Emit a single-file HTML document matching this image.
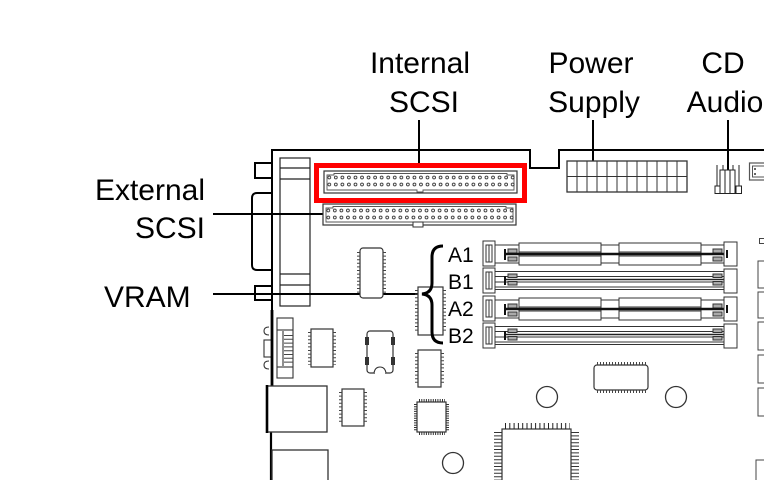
<!DOCTYPE html>
<html><head><meta charset="utf-8"><style>
html,body{margin:0;padding:0;background:#fff;}
svg{display:block;}
text{font-family:"Liberation Sans",Arial,Helvetica,sans-serif;fill:#000;}
</style></head><body>
<svg width="764" height="480" viewBox="0 0 764 480" xmlns="http://www.w3.org/2000/svg">
<defs>
<pattern id="p1" patternUnits="userSpaceOnUse" x="326" y="174" width="6.55" height="7"><circle cx="3.27" cy="3.5" r="1.4" fill="#fff" stroke="#333" stroke-width="0.9"/></pattern>
<pattern id="p2" patternUnits="userSpaceOnUse" x="325" y="207" width="6.55" height="7"><circle cx="3.27" cy="3.5" r="1.4" fill="#fff" stroke="#333" stroke-width="0.9"/></pattern>
<g id="slotA" fill="#fff" stroke="#333" stroke-width="1">
<rect x="483" y="0" width="12" height="25"/>
<rect x="486" y="4" width="6" height="17"/>
<line x1="489" y1="4" x2="489" y2="21"/>
<rect x="495" y="4" width="24" height="18"/>
<rect x="519" y="2" width="82" height="9"/>
<rect x="519" y="15" width="82" height="9"/>
<rect x="601" y="4" width="18" height="18"/>
<rect x="619" y="2" width="82" height="9"/>
<rect x="619" y="15" width="82" height="9"/>
<rect x="701" y="4" width="23" height="18"/>
<rect x="508" y="8" width="9" height="4" fill="#aaa"/>
<rect x="508" y="16" width="9" height="4" fill="#aaa"/>
<rect x="713" y="8" width="9" height="4" fill="#aaa"/>
<rect x="713" y="16" width="9" height="4" fill="#aaa"/>
<line x1="505" y1="13" x2="727" y2="13" stroke="#111" stroke-width="2.5"/>
<line x1="505" y1="8" x2="505" y2="19" stroke="#111" stroke-width="2"/>
<rect x="724" y="1" width="13" height="24"/>
<line x1="727" y1="9" x2="727" y2="17" stroke="#111" stroke-width="2"/>
</g>
<g id="slotB" fill="#fff" stroke="#333" stroke-width="1">
<rect x="483" y="0" width="12" height="25"/>
<rect x="486" y="4" width="6" height="17"/>
<line x1="489" y1="4" x2="489" y2="21"/>
<rect x="495" y="3.5" width="229" height="5"/>
<rect x="495" y="14" width="229" height="5"/>
<line x1="505" y1="11.5" x2="727" y2="11.5" stroke="#222" stroke-width="1.6"/>
<line x1="495" y1="21.5" x2="724" y2="21.5"/>
<rect x="508" y="6" width="9" height="3.5" fill="#aaa"/>
<rect x="508" y="13.5" width="9" height="3.5" fill="#aaa"/>
<rect x="713" y="6" width="9" height="3.5" fill="#aaa"/>
<rect x="713" y="13.5" width="9" height="3.5" fill="#aaa"/>
<line x1="505" y1="8" x2="505" y2="17" stroke="#111" stroke-width="2"/>
<rect x="724" y="1" width="13" height="24"/>
</g>
</defs>

<!-- Labels -->
<g font-size="30">
<text x="420" y="73" text-anchor="middle">Internal</text>
<text x="424" y="112" text-anchor="middle">SCSI</text>
<text x="591" y="73" text-anchor="middle">Power</text>
<text x="594" y="112" text-anchor="middle">Supply</text>
<text x="723" y="73" text-anchor="middle">CD</text>
<text x="725" y="112" text-anchor="middle">Audio</text>
<text x="205" y="200" text-anchor="end">External</text>
<text x="205" y="238" text-anchor="end">SCSI</text>
<text x="104" y="307">VRAM</text>
</g>
<g font-size="21">
<text x="448" y="262">A1</text>
<text x="448" y="289">B1</text>
<text x="448" y="316">A2</text>
<text x="448" y="343">B2</text>
</g>

<!-- Board outline -->
<polyline points="272,386 272,150 530,150 530,168 559,168 559,150 764,150" fill="none" stroke="#000" stroke-width="2"/>
<line x1="271" y1="432" x2="271" y2="480" stroke="#000" stroke-width="2.2"/>

<!-- Left panel -->
<g fill="none" stroke="#222" stroke-width="1.2">
<rect x="280" y="158" width="30" height="148"/>
<line x1="280" y1="168" x2="310" y2="168"/>
<line x1="280" y1="179" x2="310" y2="179"/>
<line x1="280" y1="274" x2="310" y2="274"/>
<line x1="280" y1="285" x2="310" y2="285"/>
</g>
<g fill="none" stroke="#000" stroke-width="2">
<polyline points="272,163 255,163 255,178 272,178"/>
<path d="M272,193 L257,193 Q252,193 252,198 L252,265 Q252,270 257,270 L272,270"/>
<polyline points="272,286 255,286 255,300 272,300"/>
</g>

<!-- Leader lines -->
<g stroke="#000" stroke-width="2">
<line x1="419" y1="120" x2="419" y2="165"/>
<line x1="593" y1="120" x2="593" y2="161"/>
<line x1="728" y1="120" x2="728" y2="170"/>
<line x1="213" y1="214" x2="323" y2="214"/>
<line x1="213" y1="294" x2="424" y2="294"/>
</g>

<!-- Internal SCSI connector -->
<rect x="324" y="171" width="193" height="22" fill="#fff" stroke="#333" stroke-width="1.2"/>
<path d="M327,190 L327,175 L334,175 L334,173.5 L507,173.5 L507,175 L514,175 L514,190 L423,190 L423,192 L417,192 L417,190 Z" fill="#fff" stroke="#555" stroke-width="0.9"/>
<rect x="326" y="174" width="190" height="14" fill="url(#p1)"/>

<!-- External SCSI connector -->
<rect x="323" y="204" width="193" height="21" fill="#fff" stroke="#333" stroke-width="1.2"/>
<path d="M326,222 L326,208 L333,208 L333,206.5 L506,206.5 L506,208 L513,208 L513,222 Z" fill="#fff" stroke="#555" stroke-width="0.9"/>
<rect x="413" y="222" width="10" height="5" fill="#fff" stroke="#333" stroke-width="1"/>
<rect x="325" y="207" width="190" height="14" fill="url(#p2)"/>

<!-- Red highlight -->
<rect x="316.5" y="165.5" width="208" height="35" fill="none" stroke="#f00" stroke-width="5"/>

<!-- Power supply connector -->
<g fill="none" stroke="#333" stroke-width="1">
<rect x="567" y="161" width="120" height="31" stroke-width="1.3"/>
<line x1="567" y1="176.5" x2="687" y2="176.5"/>
<line x1="577" y1="161" x2="577" y2="192"/>
<line x1="587" y1="161" x2="587" y2="192"/>
<line x1="597" y1="161" x2="597" y2="192"/>
<line x1="607" y1="161" x2="607" y2="192"/>
<line x1="617" y1="161" x2="617" y2="192"/>
<line x1="627" y1="161" x2="627" y2="192"/>
<line x1="637" y1="161" x2="637" y2="192"/>
<line x1="647" y1="161" x2="647" y2="192"/>
<line x1="657" y1="161" x2="657" y2="192"/>
<line x1="667" y1="161" x2="667" y2="192"/>
<line x1="677" y1="161" x2="677" y2="192"/>
</g>

<!-- CD audio connector -->
<g fill="#fff" stroke="#222" stroke-width="1">
<line x1="717" y1="165" x2="717" y2="186"/>
<line x1="739" y1="165" x2="739" y2="186"/>
<line x1="723" y1="165" x2="723" y2="170"/>
<line x1="733" y1="165" x2="733" y2="170"/>
<rect x="715" y="186" width="5" height="7.5"/>
<rect x="736" y="186" width="5.5" height="7.5"/>
<rect x="720" y="170" width="5" height="23.5"/>
<rect x="725" y="170" width="5" height="23.5"/>
<rect x="730" y="170" width="5" height="23.5"/>
</g>
<rect x="749.5" y="163" width="16" height="17" fill="#fff" stroke="#555" stroke-width="1.2"/>
<rect x="752.5" y="166" width="14" height="11" fill="#fff" stroke="#555" stroke-width="1"/>
<rect x="754" y="168" width="2" height="2" fill="#666"/>
<rect x="754" y="173" width="2" height="2" fill="#666"/>
<rect x="759.5" y="238.5" width="6" height="5" fill="#fff" stroke="#444" stroke-width="1"/>

<!-- Right column boxes -->
<g fill="#fff" stroke="#444" stroke-width="1">
<rect x="758" y="261" width="20" height="27"/>
<rect x="758" y="292" width="20" height="26"/>
<rect x="758" y="322" width="20" height="28"/>
<rect x="758" y="355" width="20" height="28"/>
<rect x="758" y="388" width="20" height="28"/>
<rect x="756" y="460" width="20" height="30"/>
</g>

<!-- DIMM slots -->
<use href="#slotA" y="241"/>
<use href="#slotB" y="268"/>
<use href="#slotA" y="296"/>
<use href="#slotB" y="323"/>

<!-- Chips -->
<g fill="#fff" stroke="#333" stroke-width="1.2">
<rect x="360" y="248" width="23" height="50" rx="3"/>
<rect x="418" y="287" width="25" height="48"/>
<rect x="311" y="329" width="22" height="38"/>
<rect x="418" y="350" width="23" height="37"/>
<rect x="342" y="389" width="22" height="37"/>
<rect x="417" y="402" width="29" height="30"/>
<rect x="594" y="365" width="54" height="25" rx="3"/>
<rect x="502" y="429" width="69" height="60"/>
</g>
<g fill="none" stroke="#444">
<line x1="358.5" y1="252" x2="358.5" y2="295" stroke-width="3" stroke-dasharray="1 2.6"/>
<line x1="384.5" y1="252" x2="384.5" y2="295" stroke-width="3" stroke-dasharray="1 2.6"/>
<line x1="416.5" y1="290" x2="416.5" y2="333" stroke-width="3" stroke-dasharray="1 2.6"/>
<line x1="444.5" y1="290" x2="444.5" y2="333" stroke-width="3" stroke-dasharray="1 2.6"/>
<line x1="309.5" y1="332" x2="309.5" y2="365" stroke-width="3" stroke-dasharray="1 2.6"/>
<line x1="334.5" y1="332" x2="334.5" y2="365" stroke-width="3" stroke-dasharray="1 2.6"/>
<line x1="416.5" y1="353" x2="416.5" y2="385" stroke-width="3" stroke-dasharray="1 2.6"/>
<line x1="442.5" y1="353" x2="442.5" y2="385" stroke-width="3" stroke-dasharray="1 2.6"/>
<line x1="340.5" y1="392" x2="340.5" y2="424" stroke-width="3" stroke-dasharray="1 2.6"/>
<line x1="365.5" y1="392" x2="365.5" y2="424" stroke-width="3" stroke-dasharray="1 2.6"/>
<line x1="419" y1="400.5" x2="445" y2="400.5" stroke-width="3" stroke-dasharray="1 1.3" stroke="#333"/>
<line x1="419" y1="433.5" x2="445" y2="433.5" stroke-width="3" stroke-dasharray="1 1.3" stroke="#333"/>
<line x1="415.5" y1="404" x2="415.5" y2="431" stroke-width="3" stroke-dasharray="1 1.3" stroke="#333"/>
<line x1="447.5" y1="404" x2="447.5" y2="431" stroke-width="3" stroke-dasharray="1 1.3" stroke="#333"/>
<line x1="597" y1="363.5" x2="646" y2="363.5" stroke-width="3" stroke-dasharray="1 2"/>
<line x1="597" y1="391.5" x2="646" y2="391.5" stroke-width="3" stroke-dasharray="1 2"/>
<line x1="505" y1="426" x2="570" y2="426" stroke-width="6" stroke-dasharray="1 3.3" stroke="#222"/>
<line x1="498" y1="432" x2="498" y2="480" stroke-width="8" stroke-dasharray="1 2.4" stroke="#333"/>
<line x1="575" y1="432" x2="575" y2="480" stroke-width="8" stroke-dasharray="1 2.4" stroke="#333"/>
</g>

<!-- Oscillator -->
<rect x="367" y="331" width="26" height="42" rx="3" fill="#fff" stroke="#333" stroke-width="1.2"/>
<g fill="#333">
<rect x="365" y="337" width="4" height="8"/>
<rect x="365" y="357" width="4" height="8"/>
<rect x="391" y="337" width="4" height="8"/>
<rect x="391" y="357" width="4" height="8"/>
</g>
<rect x="375" y="371" width="10" height="4" fill="#fff"/>
<path d="M374,373 Q375,367 380,367 Q385,367 386,373" fill="#fff" stroke="#333" stroke-width="1.1"/>

<!-- Left connectors -->
<g fill="#fff" stroke="#333" stroke-width="1.1">
<rect x="277" y="318" width="16" height="60"/>
<line x1="277" y1="330" x2="293" y2="330"/>
<line x1="277" y1="367" x2="293" y2="367"/>
<line x1="283" y1="331" x2="283" y2="366"/>
<rect x="264" y="340" width="8" height="17"/>
</g>
<line x1="288.5" y1="335" x2="288.5" y2="364" stroke="#444" stroke-width="9" stroke-dasharray="1 2.8"/>
<path d="M269,327 Q264,327 264,331 Q264,335 269,335 M269,361 Q264,361 264,365 Q264,369 269,369" fill="none" stroke="#333" stroke-width="1.1"/>
<line x1="272" y1="310" x2="272" y2="386" stroke="#000" stroke-width="2.8"/>
<rect x="267" y="386" width="60" height="46" fill="#fff" stroke="#333" stroke-width="1.3"/>
<line x1="267" y1="385" x2="267" y2="433" stroke="#000" stroke-width="2.6"/>
<rect x="272" y="450" width="56" height="40" fill="#fff" stroke="#333" stroke-width="1.3"/>

<!-- Circles -->
<g fill="#fff" stroke="#333" stroke-width="1.3">
<circle cx="453" cy="463" r="10.5"/>
<circle cx="547" cy="397" r="10.5"/>
<circle cx="676" cy="397" r="10.5"/>
</g>

<!-- Brace -->
<path d="M443,246 Q432,246 432,257 L432,283 Q432,293 422,294 Q432,295 432,305 L432,332 Q432,343 443,343" fill="none" stroke="#000" stroke-width="3"/>
</svg>
</body></html>
